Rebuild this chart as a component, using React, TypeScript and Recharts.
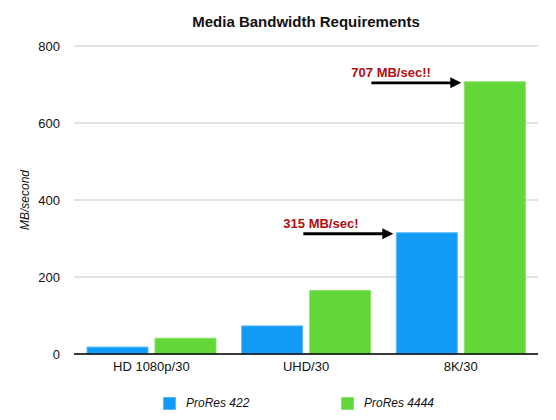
import { BarChart, Bar, XAxis, YAxis, CartesianGrid, Legend, LabelList } from 'recharts';

const categories = ['HD 1080p/30', 'UHD/30', '8K/30'];
const prores422 = [18, 73, 315];
const prores4444 = [41, 165, 707];
const notes422 = ['', '', '315 MB/sec!'];
const notes4444 = ['', '', '707 MB/sec!!'];
const yTicks = [0, 200, 400, 600, 800];

const seriesNames = ['ProRes 422', 'ProRes 4444'];
const seriesColors = ['#129bf6', '#62d737'];
const seriesEdges = ['#5ab9fa', '#8ae268'];

const FONT = '"Liberation Sans", Arial, Helvetica, sans-serif';

const data = categories.map((name, i) => ({
  name,
  p422: prores422[i],
  p4444: prores4444[i],
  n422: notes422[i],
  n4444: notes4444[i],
}));

// arrow + red text pointing at the left top corner of a bar
function Callout(props: any) {
  const { x, y, value } = props;
  if (!value) return null;
  const tipX = x - 3;
  const ay = y + 1;
  return (
    <g>
      <text x={x - 113} y={y - 5} fill="#b00d0d" fontSize={13} fontWeight="bold" fontFamily={FONT}>
        {value}
      </text>
      <line x1={x - 93} y1={ay} x2={tipX - 9} y2={ay} stroke="#000" strokeWidth={2.8} />
      <polygon points={`${tipX - 11},${ay - 5.5} ${tipX},${ay} ${tipX - 11},${ay + 5.5}`} fill="#000" />
    </g>
  );
}

function LegendBox() {
  return (
    <div style={{ position: 'relative', height: 22, fontFamily: FONT }}>
      {seriesNames.map((n, i) => (
        <div
          key={n}
          style={{
            position: 'absolute',
            left: 163 + i * 178,
            top: 5,
            display: 'flex',
            alignItems: 'center',
            height: 12,
          }}
        >
          <span
            style={{
              display: 'inline-block',
              width: 11,
              height: 11,
              background: seriesColors[i],
              border: `0.5px solid ${seriesEdges[i]}`,
            }}
          />
          <span style={{ marginLeft: 10, fontSize: 12, fontStyle: 'italic', color: '#111' }}>{n}</span>
        </div>
      ))}
    </div>
  );
}

export default function App() {
  return (
    <div style={{ position: 'absolute', left: 0, top: 0, width: 556, height: 420, background: '#fff' }}>
      <div
        style={{
          position: 'absolute',
          left: 74,
          width: 464,
          top: 14,
          lineHeight: '15px',
          textAlign: 'center',
          fontFamily: FONT,
          fontWeight: 'bold',
          fontSize: 15,
          color: '#111',
        }}
      >
        Media Bandwidth Requirements
      </div>
      <BarChart
        width={556}
        height={420}
        data={data}
        margin={{ top: 46, right: 18, bottom: 6, left: 0 }}
        barCategoryGap={13}
        barGap={7}
      >
        <CartesianGrid vertical={false} stroke="#c6c6c6" strokeWidth={1} />
        <XAxis
          dataKey="name"
          height={38}
          tickLine={false}
          axisLine={{ stroke: '#000', strokeWidth: 1.5 }}
          tick={{ fontSize: 13, fill: '#111', fontFamily: FONT }}
        />
        <YAxis
          width={74}
          domain={[0, 800]}
          ticks={yTicks}
          axisLine={false}
          tickLine={false}
          tickMargin={8}
          tick={{ fontSize: 13, fill: '#111', fontFamily: FONT }}
          label={{
            content: ({ viewBox }: any) => {
              const cx = viewBox.x + 25;
              const cy = viewBox.y + viewBox.height / 2;
              return (
                <text
                  x={cx}
                  y={cy}
                  transform={`rotate(-90 ${cx} ${cy})`}
                  textAnchor="middle"
                  dominantBaseline="central"
                  fontSize={12}
                  fontStyle="italic"
                  fontFamily={FONT}
                  fill="#111"
                >
                  MB/second
                </text>
              );
            },
          }}
        />
        <Legend verticalAlign="bottom" wrapperStyle={{ left: 0, width: 556 }} content={() => <LegendBox />} />
        <Bar
          dataKey="p422"
          name={seriesNames[0]}
          fill={seriesColors[0]}
          stroke={seriesEdges[0]}
          strokeWidth={1}
          isAnimationActive={false}
        >
          <LabelList dataKey="n422" content={Callout} />
        </Bar>
        <Bar
          dataKey="p4444"
          name={seriesNames[1]}
          fill={seriesColors[1]}
          stroke={seriesEdges[1]}
          strokeWidth={1}
          isAnimationActive={false}
        >
          <LabelList dataKey="n4444" content={Callout} />
        </Bar>
      </BarChart>
    </div>
  );
}
